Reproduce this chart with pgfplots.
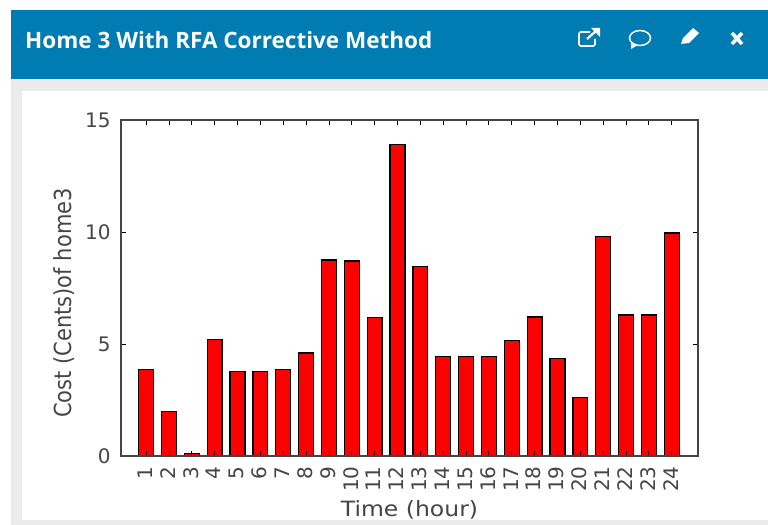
\documentclass[border=0pt]{standalone}
\usepackage{pgfplots}
\usepackage{fontspec}
\setmainfont{DejaVu Sans}
\newfontfamily\headfont{Open Sans}
\pgfplotsset{compat=1.18}
\definecolor{headblue}{HTML}{017CB3}
\definecolor{panelgray}{HTML}{EBEBEB}
\definecolor{labelgray}{HTML}{454545}
\begin{document}
\begin{tikzpicture}[x=1bp,y=-1bp]
% page furniture, in reference pixels
\fill[white] (0,0) rectangle (768,525);
\fill[panelgray] (11,79) rectangle (768,525);
\fill[white] (22,91) rectangle (768,520);
\fill[headblue] (11,10) rectangle (768,79);
\node[anchor=west,text=white,inner sep=0pt,font=\headfont\bfseries\fontsize{22.5bp}{24bp}\selectfont] at (25,40) {Home 3 With RFA Corrective Method};
% header icons
\draw[white,line width=1.6bp,rounded corners=1.5bp] (590,32) -- (579,32) -- (579,46) -- (595,46) -- (595,39);
\draw[white,line width=2.2bp] (587,39) -- (597,30);
\fill[white] (591,28) -- (600,28) -- (600,37) -- cycle;
\draw[white,line width=1.5bp] (640,38) ellipse [x radius=10.5, y radius=7.5];
\fill[white] (631,42) -- (631,49) -- (638,45) -- cycle;
\fill[white] (681,44) -- (683,38) -- (693,28) -- (699,33) -- (689,43) -- cycle;
\draw[white,line width=3.6bp] (732,33) -- (742,44) (742,33) -- (732,44);
\begin{axis}[
    at={(121bp,-456bp)}, anchor=south west,
    y dir=normal,
    scale only axis,
    width=577bp, height=336bp,
    xmin=-0.1, xmax=25.15,
    ymin=0, ymax=15,
    xtick={1,...,24},
    ytick={0,5,10,15},
    minor y tick num=0,
    tick align=inside,
    tick pos=both,
    major tick length=5bp,
    axis line style={labelgray,line width=1.1bp},
    tick style={black,line width=0.9bp},
    ticklabel style={text=labelgray},
    yticklabel style={font=\fontsize{20bp}{22bp}\selectfont,xshift=-7bp},
    xticklabel style={font=\fontsize{20bp}{22bp}\selectfont,rotate=90,anchor=east,xshift=-7bp,yshift=1bp},
    /pgf/number format/assume math mode=true,
    xlabel={\scalebox{1.12}[1]{Time (hour)}},
    ylabel={\scalebox{1}[1.12]{Cost (Cents)of home3}},
    label style={text=labelgray,font=\fontsize{21bp}{23bp}\selectfont},
    xlabel style={yshift=-2bp},
    ylabel style={yshift=4bp,xshift=-15bp},
    axis on top=true,
    ]
    \addplot[ybar,bar width=0.65,fill=red,draw=black,line width=1.3bp] coordinates {
        (1,3.85) (2,2.0) (3,0.1) (4,5.2) (5,3.78) (6,3.78)
        (7,3.85) (8,4.6) (9,8.75) (10,8.7) (11,6.17) (12,13.9)
        (13,8.45) (14,4.45) (15,4.45) (16,4.45) (17,5.15) (18,6.2)
        (19,4.35) (20,2.6) (21,9.8) (22,6.3) (23,6.3) (24,9.95)
    };
\end{axis}
\useasboundingbox (0,0) rectangle (768,525);
\end{tikzpicture}
\end{document}
